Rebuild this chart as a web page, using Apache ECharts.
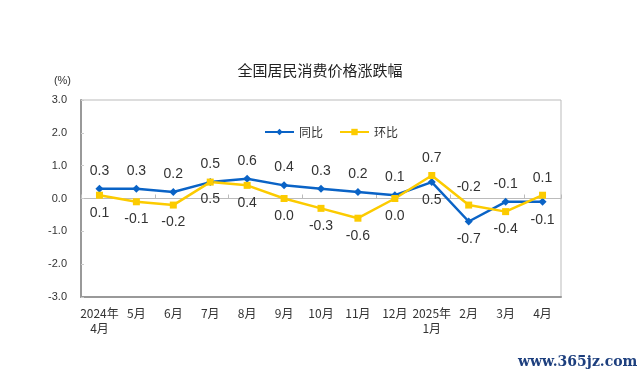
<!DOCTYPE html>
<html><head><meta charset="utf-8">
<script src="https://cdn.jsdelivr.net/npm/echarts@6/dist/echarts.min.js"></script>
<style>html,body{margin:0;padding:0;background:#fff}#c{width:640px;height:379px}</style>
</head><body><div id="c"></div>
<script>
const categories = ['2024年\n4月','5月','6月','7月','8月','9月','10月','11月','12月','2025年\n1月','2月','3月','4月'];
const yoy = [0.3, 0.3, 0.2, 0.5, 0.6, 0.4, 0.3, 0.2, 0.1, 0.5, -0.7, -0.1, -0.1];
const mom = [0.1, -0.1, -0.2, 0.5, 0.4, 0.0, -0.3, -0.6, 0.0, 0.7, -0.2, -0.4, 0.1];
const yoyLabelPos = ['top','top','top','top','top','top','top','top','top','bottom','bottom','top','bottom'];
const momLabelPos = ['bottom','bottom','bottom','bottom','bottom','bottom','bottom','bottom','bottom','top','top','bottom','top'];

const font = '"Noto Sans CJK SC", "Noto Sans", sans-serif';
const numFont = '"Liberation Sans", Arial, sans-serif';
const chart = echarts.init(document.getElementById('c'), null, {renderer:'canvas'});
function mk(vals, pos){ return vals.map((v,i)=>({value:v, label:{position:pos[i]}})); }
chart.setOption({
  animation:false,
  backgroundColor:'#fff',
  title:{text:'全国居民消费价格涨跌幅', left:'center', top:58,
    textStyle:{fontSize:15, fontWeight:'normal', color:'#222', fontFamily:font}},
  legend:{top:121, left:259, itemGap:16, itemWidth:29, itemHeight:8,
    textStyle:{fontSize:12, color:'#333', fontFamily:font},
    data:['同比','环比']},
  grid:{left:81, right:79, top:100, bottom:82, show:true, borderColor:'#bbb', borderWidth:1},
  xAxis:[{
    type:'category', data:categories, position:'bottom',
    axisLine:{onZero:false, lineStyle:{color:'#999', width:2}},
    axisTick:{show:false},
    axisLabel:{interval:0, fontSize:12, color:'#333', margin:9, lineHeight:15, fontFamily:font}
  },{
    type:'category', data:categories, position:'bottom',
    axisLine:{onZero:true, lineStyle:{color:'#bbb', width:1}},
    axisTick:{show:true, inside:true, length:4, lineStyle:{color:'#bbb'}},
    axisLabel:{show:false}
  }],
  yAxis:{type:'value', min:-3, max:3, interval:1,
    axisLine:{show:true, lineStyle:{color:'#999', width:2}},
    axisTick:{show:true, inside:true, length:3, lineStyle:{color:'#ccc'}},
    splitLine:{show:false},
    name:'(%)', nameLocation:'end', nameGap:14,
    nameTextStyle:{fontSize:11, color:'#333', align:'right', padding:[0,10,0,0], fontFamily:numFont},
    axisLabel:{fontSize:11, color:'#333', margin:14, formatter:v=>v.toFixed(1), fontFamily:numFont}
  },
  series:[
    {name:'同比', type:'line', data:mk(yoy, yoyLabelPos), symbol:'diamond', symbolSize:8,
     itemStyle:{color:'#0a63c6'}, lineStyle:{width:2.5, color:'#0a63c6'},
     label:{show:true, fontSize:14, color:'#333', distance:7, formatter:p=>p.value.toFixed(1), fontFamily:numFont}},
    {name:'环比', type:'line', data:mk(mom, momLabelPos), symbol:'rect', symbolSize:7,
     itemStyle:{color:'#fccb00'}, lineStyle:{width:2.5, color:'#fccb00'},
     label:{show:true, fontSize:14, color:'#333', distance:7, formatter:p=>p.value.toFixed(1), fontFamily:numFont}}
  ],
  graphic:[{type:'text', left:518, top:355,
    style:{text:'www.365jz.com', fontSize:14, fontWeight:'bold', fill:'#1d3f7e', fontFamily:'"DejaVu Serif", serif'}}]
});
</script></body></html>
